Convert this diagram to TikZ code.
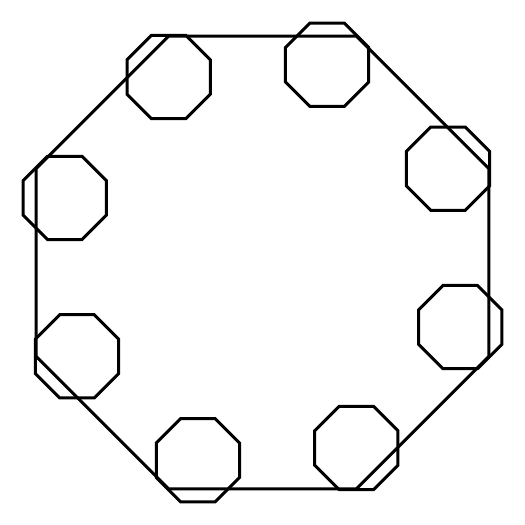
\documentclass[tikz,border=0pt]{standalone}
\usetikzlibrary{shapes.geometric}
\begin{document}
\begin{tikzpicture}[x=0.02cm,y=-0.02cm,
  oct/.style={draw=black, line width=1.7pt, regular polygon, regular polygon sides=8, inner sep=0pt, outer sep=0pt},
  bigoct/.style={oct, minimum size=9.806cm},
  smalloct/.style={oct, minimum size=1.803cm}]
\useasboundingbox (0,0) rectangle (525,525);
\node[bigoct] (big) at (262.5,262.5) {};
\node[smalloct] (s1) at (168.7,77.0) {};
\node[smalloct] (s2) at (327.1,64.7) {};
\node[smalloct] (s3) at (448.0,168.7) {};
\node[smalloct] (s4) at (460.3,327.1) {};
\node[smalloct] (s5) at (356.3,448.0) {};
\node[smalloct] (s6) at (197.9,460.3) {};
\node[smalloct] (s7) at (77.0,356.3) {};
\node[smalloct] (s8) at (64.7,197.9) {};
\end{tikzpicture}
\end{document}
